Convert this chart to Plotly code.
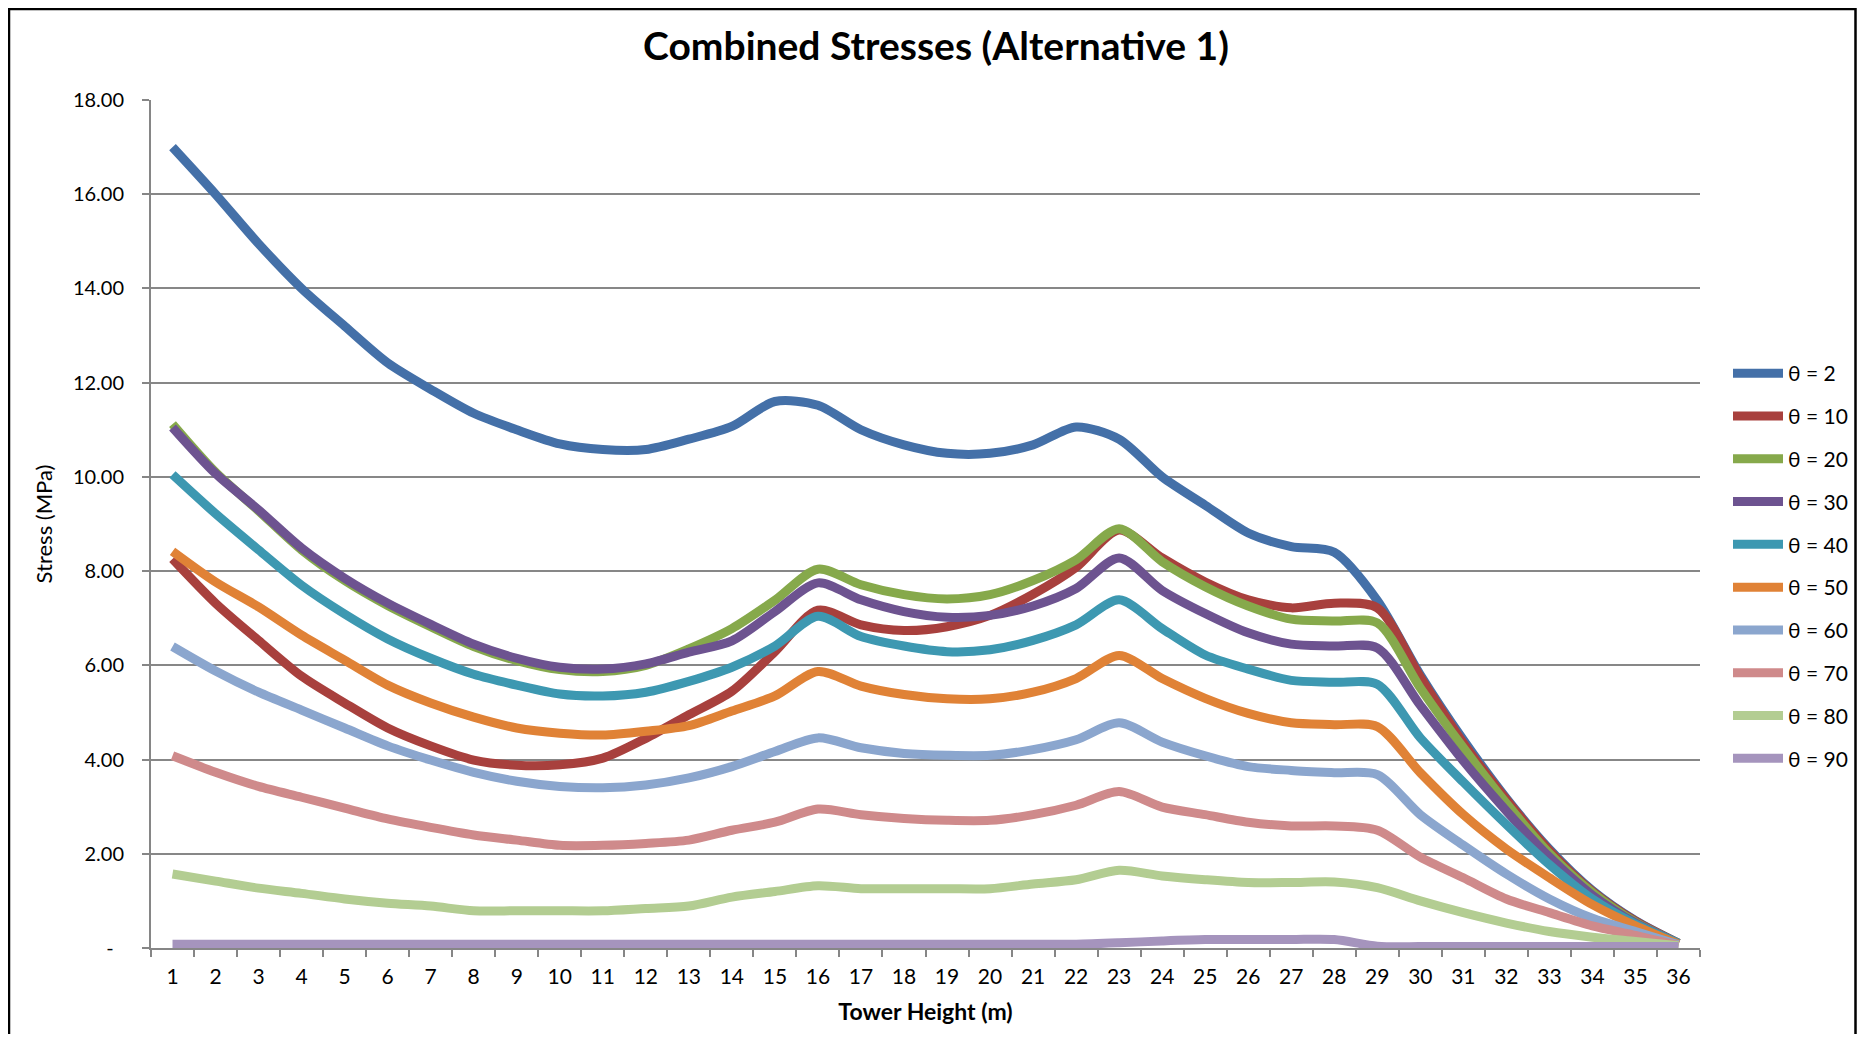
import plotly.graph_objects as go

heights = list(range(1, 37))

theta_labels = ["θ = 2", "θ = 10", "θ = 20", "θ = 30", "θ = 40",
                "θ = 50", "θ = 60", "θ = 70", "θ = 80", "θ = 90"]

s_theta2 = [17.0, 16.0, 14.95, 14.0, 13.2, 12.42, 11.86, 11.35, 11.0, 10.7, 10.58, 10.58,
            10.8, 11.07, 11.6, 11.52, 11.0, 10.68, 10.5, 10.5, 10.68, 11.06, 10.8, 10.0,
            9.4, 8.81, 8.52, 8.4, 7.38, 5.8, 4.42, 3.18, 2.1, 1.22, 0.58, 0.1]
s_theta10 = [8.26, 7.32, 6.53, 5.77, 5.2, 4.67, 4.29, 3.99, 3.88, 3.89, 4.03, 4.45,
             4.95, 5.45, 6.29, 7.17, 6.86, 6.74, 6.82, 7.06, 7.51, 8.08, 8.87, 8.28,
             7.77, 7.39, 7.22, 7.32, 7.22, 5.75, 4.35, 3.15, 2.07, 1.2, 0.57, 0.1]
s_theta20 = [11.12, 10.1, 9.28, 8.45, 7.8, 7.27, 6.82, 6.4, 6.1, 5.91, 5.87, 6.0,
             6.35, 6.78, 7.38, 8.04, 7.71, 7.5, 7.41, 7.5, 7.8, 8.24, 8.9, 8.2,
             7.67, 7.26, 6.98, 6.94, 6.9, 5.52, 4.25, 3.07, 2.01, 1.18, 0.55, 0.1]
s_theta30 = [11.05, 10.07, 9.3, 8.49, 7.85, 7.32, 6.87, 6.45, 6.15, 5.96, 5.92, 6.03,
             6.28, 6.52, 7.14, 7.75, 7.39, 7.14, 7.02, 7.06, 7.26, 7.63, 8.28, 7.59,
             7.1, 6.69, 6.45, 6.41, 6.37, 5.15, 3.97, 2.91, 1.93, 1.12, 0.53, 0.1]
s_theta40 = [10.05, 9.22, 8.45, 7.7, 7.09, 6.56, 6.15, 5.81, 5.58, 5.39, 5.35, 5.43,
             5.66, 5.96, 6.41, 7.04, 6.61, 6.41, 6.29, 6.33, 6.53, 6.86, 7.39, 6.78,
             6.22, 5.92, 5.68, 5.64, 5.6, 4.46, 3.52, 2.62, 1.77, 1.04, 0.51, 0.1]
s_theta50 = [8.42, 7.77, 7.24, 6.64, 6.11, 5.58, 5.2, 4.9, 4.67, 4.56, 4.52, 4.6,
             4.72, 5.03, 5.35, 5.87, 5.56, 5.38, 5.29, 5.29, 5.43, 5.72, 6.21, 5.72,
             5.3, 4.98, 4.78, 4.74, 4.7, 3.72, 2.83, 2.1, 1.49, 0.92, 0.47, 0.08]
s_theta60 = [6.4, 5.88, 5.43, 5.05, 4.67, 4.29, 3.99, 3.73, 3.54, 3.43, 3.4, 3.46,
             3.61, 3.85, 4.17, 4.46, 4.25, 4.13, 4.09, 4.09, 4.21, 4.42, 4.78, 4.37,
             4.08, 3.85, 3.77, 3.72, 3.68, 2.83, 2.18, 1.57, 1.04, 0.63, 0.35, 0.07]
s_theta70 = [4.08, 3.73, 3.43, 3.2, 2.97, 2.74, 2.56, 2.4, 2.29, 2.18, 2.18, 2.22,
             2.29, 2.5, 2.67, 2.95, 2.83, 2.75, 2.71, 2.71, 2.83, 3.03, 3.32, 2.99,
             2.83, 2.67, 2.59, 2.59, 2.5, 1.93, 1.49, 1.04, 0.75, 0.47, 0.27, 0.05]
s_theta80 = [1.57, 1.42, 1.27, 1.16, 1.04, 0.95, 0.89, 0.79, 0.79, 0.79, 0.79, 0.84,
             0.89, 1.08, 1.2, 1.32, 1.26, 1.26, 1.26, 1.26, 1.36, 1.45, 1.65, 1.53,
             1.45, 1.39, 1.39, 1.4, 1.28, 1.0, 0.75, 0.53, 0.35, 0.23, 0.14, 0.05]
s_theta90 = [0.08, 0.08, 0.08, 0.08, 0.08, 0.08, 0.08, 0.08, 0.08, 0.08, 0.08, 0.08,
             0.08, 0.08, 0.08, 0.08, 0.08, 0.08, 0.08, 0.08, 0.08, 0.08, 0.11, 0.15,
             0.18, 0.18, 0.18, 0.18, 0.04, 0.03, 0.03, 0.03, 0.03, 0.03, 0.03, 0.03]

series = [s_theta2, s_theta10, s_theta20, s_theta30, s_theta40,
          s_theta50, s_theta60, s_theta70, s_theta80, s_theta90]

colors = ["#4470A8", "#A8403D", "#86A94B", "#6D5390", "#3D98B1",
          "#E08236", "#8BA6CE", "#CF8A8B", "#B3CD92", "#A594BD"]

y_tickvals = [0, 2, 4, 6, 8, 10, 12, 14, 16, 18]
y_ticktext = ["-\u00a0\u00a0", "2.00", "4.00", "6.00", "8.00", "10.00",
              "12.00", "14.00", "16.00", "18.00"]

FONT = "Lato, 'Open Sans', sans-serif"

fig = go.Figure()
for i, (name, ys, col) in enumerate(zip(theta_labels, series, colors)):
    fig.add_trace(go.Scatter(
        x=heights, y=ys, name=name, mode="lines",
        line=dict(color=col, width=9, shape="spline", smoothing=0.8),
        legendgroup=f"g{i}",
    ))

# plot area in figure px: x 143..1692, y 92..940
PL, PR, PT, PB = 143, 1692, 92, 940
W, H = 1849, 1026
PW, PH = PR - PL, PB - PT


def px2paper_x(px):
    return (px - PL) / PW


def px2paper_y(py):
    return (PB - py) / PH


fig.update_layout(
    width=W, height=H,
    margin=dict(l=PL, r=W - PR, t=PT, b=H - PB, autoexpand=False),
    paper_bgcolor="white", plot_bgcolor="white",
    font=dict(family=FONT, color="#000000"),
    title=dict(text="<b>Combined Stresses (Alternative 1)</b>",
               font=dict(size=39, family=FONT, color="#000000"),
               x=px2paper_x(928), xref="paper", xanchor="center",
               y=1 - 38 / H, yref="container", yanchor="middle"),
    showlegend=True,
    legend=dict(x=px2paper_x(1720), xanchor="left", xref="paper",
                y=px2paper_y(345), yanchor="top", yref="paper",
                font=dict(size=21, family=FONT, color="#000000"),
                tracegroupgap=12.5, itemwidth=50,
                bgcolor="rgba(0,0,0,0)", borderwidth=0),
    xaxis=dict(range=[0.5, 36.5], tickmode="array", tickvals=heights,
               ticktext=[str(h) for h in heights], ticks="",
               tickfont=dict(size=21, family=FONT, color="#000000"),
               ticklabelstandoff=9,
               showgrid=False, zeroline=False,
               showline=True, linecolor="#868686", linewidth=2,
               minor=dict(tickvals=[h + 0.5 for h in [0] + heights], ticks="outside",
                          ticklen=7, tickwidth=2, tickcolor="#868686", showgrid=False),
               title=dict(text="<b>Tower Height (m)</b>",
                          font=dict(size=23, family=FONT, color="#000000"),
                          standoff=17),
               fixedrange=True),
    yaxis=dict(range=[0, 18], tickmode="array", tickvals=y_tickvals, ticktext=y_ticktext,
               ticks="outside", ticklen=7, tickwidth=2, tickcolor="#868686",
               tickfont=dict(size=20, family=FONT, color="#000000"),
               ticklabelstandoff=14,
               showgrid=True, gridcolor="#878787", gridwidth=1.6,
               zeroline=False, showline=True, linecolor="#868686", linewidth=2,
               title=dict(text="Stress (MPa)",
                          font=dict(size=22, family=FONT, color="#000000"),
                          standoff=14),
               fixedrange=True),
    shapes=[dict(type="rect", xref="paper", yref="paper",
                 x0=px2paper_x(1), x1=px2paper_x(1847.5),
                 y0=px2paper_y(1100), y1=px2paper_y(1),
                 line=dict(color="#000000", width=2.5), fillcolor="rgba(0,0,0,0)",
                 layer="above")],
)

fig.write_html("out.html")
